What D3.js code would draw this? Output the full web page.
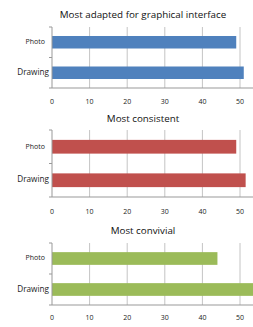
<!DOCTYPE html>
<html>
<head>
<meta charset="utf-8">
<script src="https://cdn.jsdelivr.net/npm/d3@7"></script>
<style>
  body { margin: 0; background: #fff; }
  svg { display: block; font-family: "Open Sans", "Liberation Sans", sans-serif; }
</style>
</head>
<body>
<svg></svg>
<script>
const categories = ["Photo", "Drawing"];
const titles = ["Most adapted for graphical interface", "Most consistent", "Most convivial"];
const adaptedValues = [49, 51];
const consistentValues = [49, 51.5];
const convivialValues = [44, 55];
const xTicks = [0, 10, 20, 30, 40, 50];

const svg = d3.select("svg")
    .attr("width", 253)
    .attr("height", 327);

const x = d3.scaleLinear().domain([0, 50]).range([52, 240]);

// layout of each small chart: title line, plot top, plot bottom
const panels = [
  {title: titles[0], values: adaptedValues, color: "#4f81bd", ty: 15, top: 27, bottom: 88, ly: 102},
  {title: titles[1], values: consistentValues, color: "#c0504d", ty: 119, top: 130, bottom: 197, ly: 212},
  {title: titles[2], values: convivialValues, color: "#9bbb59", ty: 231, top: 243, bottom: 305, ly: 318}
];

panels.forEach(function(p) {
  const g = svg.append("g");

  const y = d3.scaleBand()
      .domain(categories)
      .range([p.top, p.bottom])
      .paddingInner(0.59)
      .paddingOuter(0.295);

  g.append("text")
      .attr("x", 143)
      .attr("y", p.ty)
      .attr("text-anchor", "middle")
      .attr("dominant-baseline", "middle")
      .attr("font-size", 9.8)
      .attr("fill", "#111")
      .text(p.title);

  // vertical gridlines
  g.selectAll("line.grid")
    .data(xTicks.slice(1))
    .enter()
    .append("line")
      .attr("class", "grid")
      .attr("x1", d => x(d))
      .attr("x2", d => x(d))
      .attr("y1", p.top)
      .attr("y2", p.bottom)
      .style("stroke", "#c4c4c4")
      .style("stroke-width", 1);

  g.selectAll("rect")
    .data(p.values)
    .enter()
    .append("rect")
      .attr("x", x(0))
      .attr("y", (d, i) => y(categories[i]))
      .attr("width", d => x(d) - x(0))
      .attr("height", y.bandwidth())
      .style("fill", p.color);

  // left axis with a tick between categories
  g.append("line")
      .attr("x1", x(0)).attr("x2", x(0))
      .attr("y1", p.top).attr("y2", p.bottom)
      .style("stroke", "#999");
  const mid = (p.top + p.bottom) / 2;
  [p.top, mid, p.bottom].forEach(function(t) {
    g.append("line")
        .attr("x1", x(0) - 3).attr("x2", x(0))
        .attr("y1", t).attr("y2", t)
        .style("stroke", "#999");
  });

  // bottom axis line
  g.append("line")
      .attr("x1", x(0)).attr("x2", 253)
      .attr("y1", p.bottom).attr("y2", p.bottom)
      .style("stroke", "#999");

  g.selectAll("text.cat")
    .data(categories)
    .enter()
    .append("text")
      .attr("class", "cat")
      .attr("x", d => d === "Photo" ? x(0) - 7 : x(0) - 3)
      .attr("y", d => y(d) + y.bandwidth() / 2)
      .attr("text-anchor", "end")
      .attr("dominant-baseline", "middle")
      .attr("font-size", d => d === "Photo" ? 7 : 8.2)
      .attr("fill", "#222")
      .text(d => d);

  g.selectAll("text.tick")
    .data(xTicks)
    .enter()
    .append("text")
      .attr("class", "tick")
      .attr("x", d => x(d))
      .attr("y", p.ly)
      .attr("text-anchor", "middle")
      .attr("dominant-baseline", "middle")
      .attr("font-size", 7)
      .attr("fill", "#222")
      .text(d => d);
});
</script>
</body>
</html>
